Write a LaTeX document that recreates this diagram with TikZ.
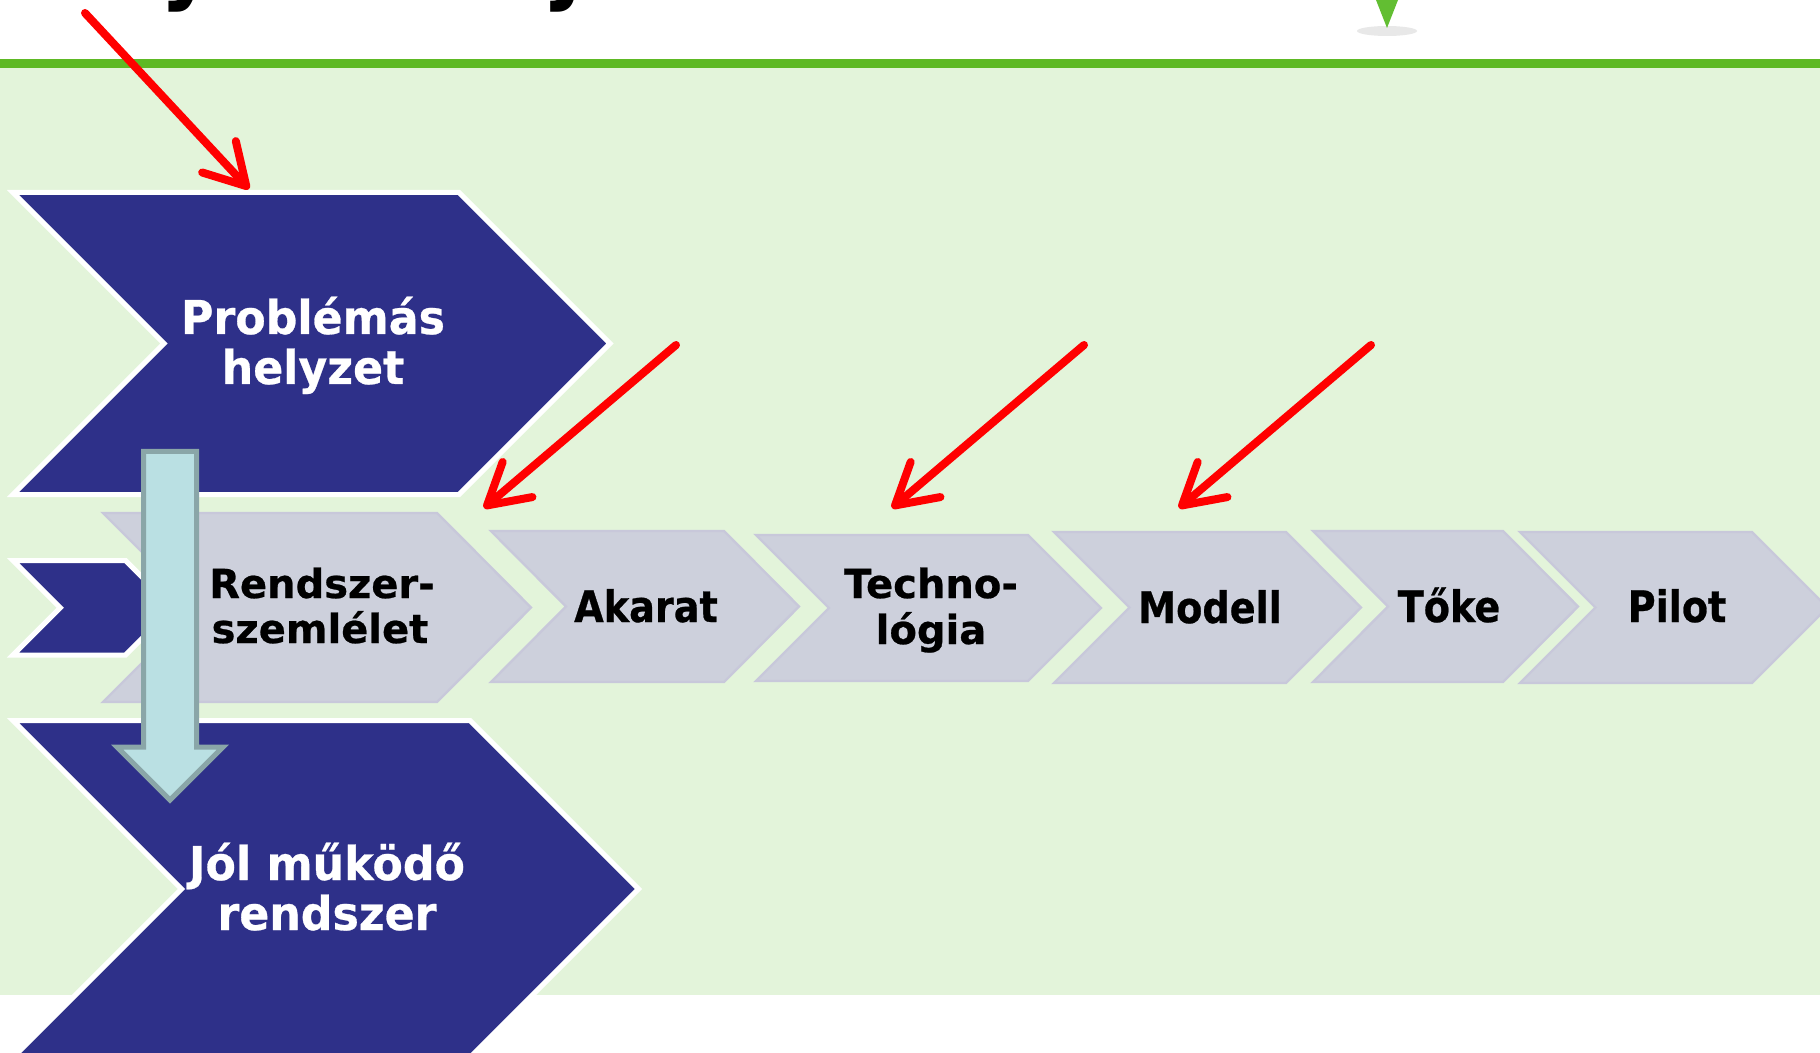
\documentclass[tikz,border=0pt]{standalone}
\usepackage{fontspec}
\setmainfont{DejaVu Sans}
\newfontfamily\tfont[FakeStretch=0.88]{DejaVu Sans}
\newfontfamily\wfont[FakeStretch=0.95, BoldFeatures={FakeBold=0.6}]{DejaVu Sans}
\newfontfamily\bfont[BoldFeatures={FakeBold=0.6}]{DejaVu Sans}
\newfontfamily\kfont[FakeStretch=0.88, BoldFeatures={FakeBold=0.6}]{DejaVu Sans}
\usetikzlibrary{arrows.meta}
\definecolor{navy}{RGB}{46,48,137}
\definecolor{grayfill}{RGB}{205,208,220}
\definecolor{grayedge}{RGB}{200,200,218}
\definecolor{bggreen}{RGB}{227,244,218}
\definecolor{linegreen}{RGB}{94,185,36}
\definecolor{pingreen}{RGB}{98,190,50}
\definecolor{arrowfill}{RGB}{186,224,227}
\definecolor{arrowedge}{RGB}{138,166,168}
\definecolor{redline}{RGB}{255,0,0}
\tikzset{
  navychev/.style={fill=navy, draw=white, line width=2.5pt, line join=miter},
  graychev/.style={fill=grayfill, draw=grayedge, line width=1.2pt},
  whitetxt/.style={text=white, inner sep=0pt, anchor=base, font=\wfont\bfseries\fontsize{23.3}{24}\selectfont},
  blacktxt/.style={text=black, inner sep=0pt, anchor=base, font=\bfont\bfseries\fontsize{20}{21}\selectfont},
  blackbig/.style={text=black, inner sep=0pt, anchor=base, font=\kfont\bfseries\fontsize{21.7}{22}\selectfont},
  redarrow/.style={draw=redline, line width=4pt, line cap=round, line join=round,
    -{Straight Barb[length=20pt, width=23pt, round]}},
  downarrow/.style={fill=arrowfill, draw=arrowedge, line width=2.5pt, line join=miter}
}
\begin{document}
\begin{tikzpicture}[x=0.5pt, y=-0.5pt]
\useasboundingbox (0,0) rectangle (1820,1053);
\clip (0,0) rectangle (1820,1053);
% background
\fill[white] (0,0) rectangle (1820,1053);
\fill[bggreen] (0,68) rectangle (1820,995);
\fill[linegreen] (0,59) rectangle (1820,68);
% cut-off title
\node[anchor=base west, inner sep=0pt, text=black, font=\tfont\bfseries\fontsize{48}{50}\selectfont] (title) at (14,-8) {helyzetek\hspace{0.5em} javítása};
% green pin tip and its shadow
\fill[gray!35, opacity=0.5] (1387,31) ellipse [x radius=30, y radius=5];
\fill[pingreen] (1376,0) -- (1398,0) -- (1387,28) -- cycle;
% small navy chevron
\draw[navychev] (13,560.5) -- (125.5,560.5) -- (172.75,607.75) -- (125.5,655) -- (13,655) -- (60.25,607.75) -- cycle;
% gray chevrons
\draw[graychev] (103,513) -- (437,513) -- (531,607.5) -- (437,702) -- (103,702) -- (197.5,607.5) -- cycle;
\draw[graychev] (491,531) -- (724,531) -- (799,606.5) -- (724,682) -- (491,682) -- (566,606.5) -- cycle;
\draw[graychev] (756,535) -- (1028,535) -- (1101,608) -- (1028,681) -- (756,681) -- (829,608) -- cycle;
\draw[graychev] (1054,532) -- (1286,532) -- (1361,607.5) -- (1286,683) -- (1054,683) -- (1129.5,607.5) -- cycle;
\draw[graychev] (1313,531) -- (1503,531) -- (1578,606.5) -- (1503,682) -- (1313,682) -- (1388,606.5) -- cycle;
\draw[graychev] (1520,532) -- (1752,532) -- (1827.5,607.5) -- (1752,683) -- (1520,683) -- (1595.5,607.5) -- cycle;
% big navy chevrons
\draw[navychev] (13,192.5) -- (459,192.5) -- (610,343.5) -- (459,494.5) -- (13,494.5) -- (164,343.5) -- cycle;
\draw[navychev] (13,720.5) -- (470,720.5) -- (638.5,889) -- (470,1057.5) -- (13,1057.5) -- (181.5,889) -- cycle;
% down arrow
\draw[downarrow] (143.5,451.5) -- (196.5,451.5) -- (196.5,747) -- (223,747) -- (170,800) -- (117,747) -- (143.5,747) -- cycle;
% texts
\node[whitetxt] (p1) at (313,334) {Problémás};
\node[whitetxt] (p2) at (313,384) {helyzet};
\node[whitetxt] (j1) at (327,880) {Jól működő};
\node[whitetxt] (j2) at (327,930) {rendszer};
\node[blacktxt] (r1) at (322,598) {Rendszer-};
\node[blacktxt] (r2) at (320,643) {szemlélet};
\node[blackbig] (ak) at (646,622) {Akarat};
\node[blacktxt] (t1) at (931,598) {Techno-};
\node[blacktxt] (t2) at (931,644) {lógia};
\node[blackbig] (mo) at (1210,623) {Modell};
\node[blackbig] (to) at (1449,622) {Tőke};
\node[blackbig] (pi) at (1677,622) {Pilot};
% red arrows
\coordinate (s1) at (85,13);    \coordinate (e1) at (249,189);
\coordinate (s2) at (676,345);  \coordinate (e2) at (484,508);
\coordinate (s3) at (1084,345); \coordinate (e3) at (892,508);
\coordinate (s4) at (1371,345); \coordinate (e4) at (1179,508);
\draw[redarrow] (s1) -- (e1);
\draw[redarrow] (s2) -- (e2);
\draw[redarrow] (s3) -- (e3);
\draw[redarrow] (s4) -- (e4);
\end{tikzpicture}
\end{document}
